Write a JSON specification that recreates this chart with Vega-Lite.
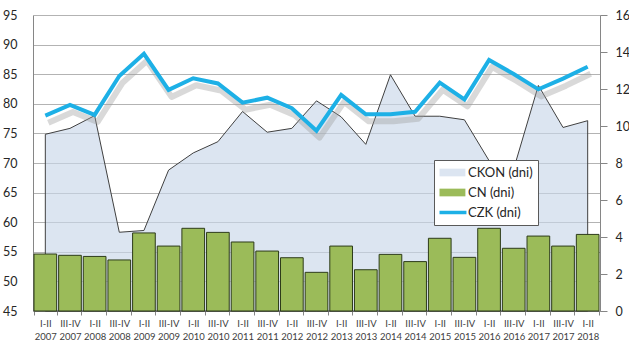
{
  "$schema": "https://vega.github.io/schema/vega-lite/v6.json",
  "width": 567,
  "height": 296,
  "autosize": {"type": "none"},
  "padding": {"left": 33, "top": 15, "right": 29, "bottom": 43},
  "background": "white",
  "config": {
    "view": {"stroke": null},
    "font": "Lato",
    "scale": {"bandPaddingInner": 0.08, "bandPaddingOuter": 0.04},
    "axis": {"labelFont": "Lato", "labelColor": "#262626", "domainColor": "#868686", "tickColor": "#868686"},
    "legend": {"labelFont": "Lato"}
  },
  "data": {
    "values": [
      {"okres": "I-II 2007", "ckon": 74.85, "cn": 3.08, "czk": 10.56},
      {"okres": "III-IV 2007", "ckon": 75.85, "cn": 3.01, "czk": 11.14},
      {"okres": "I-II 2008", "ckon": 78.0, "cn": 2.95, "czk": 10.6},
      {"okres": "III-IV 2008", "ckon": 58.3, "cn": 2.76, "czk": 12.7},
      {"okres": "I-II 2009", "ckon": 58.6, "cn": 4.22, "czk": 13.9},
      {"okres": "III-IV 2009", "ckon": 68.8, "cn": 3.51, "czk": 11.95},
      {"okres": "I-II 2010", "ckon": 71.7, "cn": 4.47, "czk": 12.58},
      {"okres": "III-IV 2010", "ckon": 73.6, "cn": 4.25, "czk": 12.3},
      {"okres": "I-II 2011", "ckon": 78.7, "cn": 3.73, "czk": 11.26},
      {"okres": "III-IV 2011", "ckon": 75.2, "cn": 3.24, "czk": 11.53},
      {"okres": "I-II 2012", "ckon": 75.85, "cn": 2.88, "czk": 10.96},
      {"okres": "III-IV 2012", "ckon": 80.5, "cn": 2.09, "czk": 9.75},
      {"okres": "I-II 2013", "ckon": 77.8, "cn": 3.51, "czk": 11.68},
      {"okres": "III-IV 2013", "ckon": 73.15, "cn": 2.23, "czk": 10.63},
      {"okres": "I-II 2014", "ckon": 84.9, "cn": 3.06, "czk": 10.63},
      {"okres": "III-IV 2014", "ckon": 77.9, "cn": 2.67, "czk": 10.77},
      {"okres": "I-II 2015", "ckon": 77.9, "cn": 3.93, "czk": 12.34},
      {"okres": "III-IV 2015", "ckon": 77.3, "cn": 2.9, "czk": 11.44},
      {"okres": "I-II 2016", "ckon": 70.4, "cn": 4.47, "czk": 13.57},
      {"okres": "III-IV 2016", "ckon": 69.0, "cn": 3.39, "czk": 12.81},
      {"okres": "I-II 2017", "ckon": 83.1, "cn": 4.05, "czk": 11.98},
      {"okres": "III-IV 2017", "ckon": 76.0, "cn": 3.51, "czk": 12.56},
      {"okres": "I-II 2018", "ckon": 77.15, "cn": 4.14, "czk": 13.2}
    ]
  },
  "layer": [
    {
      "mark": {"type": "area", "fill": "#c9d7ea", "stroke": "#404040", "strokeWidth": 1, "fillOpacity": 0.65},
      "encoding": {
        "x": {
          "field": "okres", "type": "ordinal", "sort": null, "bandPosition": 0.5,
          "axis": {"title": null, "labelAngle": 0, "labelExpr": "isString(datum.value) ? split(datum.value, ' ') : ''", "labelFontSize": 9.5, "labelLineHeight": 13, "labelPadding": 3, "labelOverlap": false, "labelColor": "#404040", "tickBand": "extent", "tickSize": 4, "grid": false}
        },
        "y": {
          "field": "ckon",
          "type": "quantitative",
          "stack": null,
          "scale": {"domain": [45, 95], "nice": false, "zero": false},
          "axis": {
            "orient": "left",
            "title": null,
            "values": [45, 50, 55, 60, 65, 70, 75, 80, 85, 90, 95],
            "grid": true,
            "gridColor": "#b3b3b3",
            "ticks": false,
            "labelPadding": 16,
            "labelFontSize": 12.5
          }
        }
      }
    },
    {
      "layer": [
        {
          "mark": {"type": "bar", "fill": "#9bbb59", "stroke": "#2d3b1a", "strokeWidth": 1},
          "encoding": {
            "x": {
              "field": "okres", "type": "ordinal", "sort": null,
              "axis": {"title": null, "labelAngle": 0, "labelExpr": "isString(datum.value) ? split(datum.value, ' ') : ''", "labelFontSize": 9.5, "labelLineHeight": 13, "labelPadding": 3, "labelOverlap": false, "labelColor": "#404040", "tickBand": "extent", "tickSize": 4, "grid": false}
            },
            "y": {
              "field": "cn", "type": "quantitative",
              "scale": {"domain": [0, 16], "nice": false},
              "axis": {"orient": "right", "title": null, "values": [0, 2, 4, 6, 8, 10, 12, 14, 16], "grid": false, "tickSize": 7, "labelPadding": 8, "labelFontSize": 12.5}
            }
          }
        },
        {
          "mark": {"type": "line", "stroke": "#9a9a9a", "strokeWidth": 6, "opacity": 0.38, "xOffset": 3, "yOffset": 7, "strokeJoin": "round"},
          "encoding": {
            "x": {
              "field": "okres", "type": "ordinal", "sort": null, "bandPosition": 0.5,
              "axis": {"title": null, "labelAngle": 0, "labelExpr": "isString(datum.value) ? split(datum.value, ' ') : ''", "labelFontSize": 9.5, "labelLineHeight": 13, "labelPadding": 3, "labelOverlap": false, "labelColor": "#404040", "tickBand": "extent", "tickSize": 4, "grid": false}
            },
            "y": {
              "field": "czk", "type": "quantitative",
              "scale": {"domain": [0, 16], "nice": false},
              "axis": {"orient": "right", "title": null, "values": [0, 2, 4, 6, 8, 10, 12, 14, 16], "grid": false, "tickSize": 7, "labelPadding": 8, "labelFontSize": 12.5}
            }
          }
        },
        {
          "mark": {"type": "line", "stroke": "#1db0e6", "strokeWidth": 4, "strokeJoin": "miter"},
          "encoding": {
            "x": {
              "field": "okres", "type": "ordinal", "sort": null, "bandPosition": 0.5,
              "axis": {"title": null, "labelAngle": 0, "labelExpr": "isString(datum.value) ? split(datum.value, ' ') : ''", "labelFontSize": 9.5, "labelLineHeight": 13, "labelPadding": 3, "labelOverlap": false, "labelColor": "#404040", "tickBand": "extent", "tickSize": 4, "grid": false}
            },
            "y": {
              "field": "czk", "type": "quantitative",
              "scale": {"domain": [0, 16], "nice": false},
              "axis": {"orient": "right", "title": null, "values": [0, 2, 4, 6, 8, 10, 12, 14, 16], "grid": false, "tickSize": 7, "labelPadding": 8, "labelFontSize": 12.5}
            }
          }
        }
      ]
    },
    {
      "data": {"values": [{"seria": "CKON (dni)"}, {"seria": "CN (dni)"}, {"seria": "CZK (dni)"}]},
      "mark": {"type": "point", "filled": true, "opacity": 0},
      "encoding": {
        "color": {
          "field": "seria",
          "type": "nominal",
          "scale": {"domain": ["CKON (dni)", "CN (dni)", "CZK (dni)"], "range": ["#dce5f1", "#9bbb59", "#1db0e6"]},
          "legend": {
            "title": null,
            "orient": "none",
            "legendX": 401,
            "legendY": 145,
            "padding": 5,
            "fillColor": "white",
            "strokeColor": "#595959",
            "labelFontSize": 13,
            "labelColor": "#262626",
            "symbolSize": 196,
            "symbolOpacity": 1,
            "symbolStrokeWidth": 1,
            "symbolStrokeColor": {"expr": "datum.label == 'CZK (dni)' ? '#1db0e6' : '#404040'"},
            "labelOffset": 14,
            "rowPadding": 5
          }
        },
        "shape": {
          "field": "seria",
          "type": "nominal",
          "scale": {
            "domain": ["CKON (dni)", "CN (dni)", "CZK (dni)"],
            "range": ["M-1,-0.55H2.7V0.55H-1Z", "M-1,-0.55H2.7V0.55H-1Z", "M-1,-0.25H2.85V0.25H-1Z"]
          },
          "legend": {
            "title": null,
            "orient": "none",
            "legendX": 401,
            "legendY": 145,
            "padding": 5,
            "fillColor": "white",
            "strokeColor": "#595959",
            "labelFontSize": 13,
            "labelColor": "#262626",
            "symbolSize": 196,
            "symbolOpacity": 1,
            "symbolStrokeWidth": 1,
            "symbolStrokeColor": {"expr": "datum.label == 'CZK (dni)' ? '#1db0e6' : '#404040'"},
            "labelOffset": 14,
            "rowPadding": 5
          }
        }
      }
    }
  ],
  "resolve": {"scale": {"y": "independent"}}
}
